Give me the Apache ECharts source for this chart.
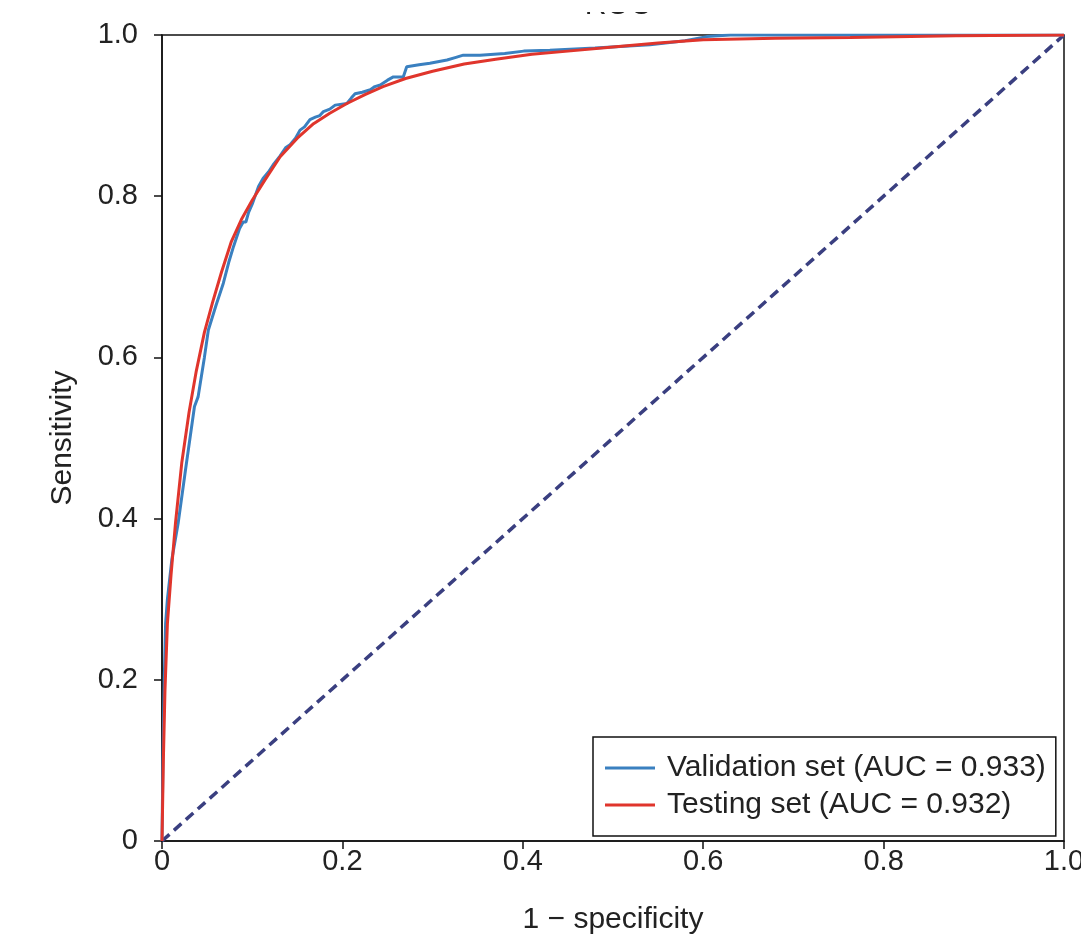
<!DOCTYPE html>
<html>
<head>
<meta charset="utf-8">
<script src="https://cdn.jsdelivr.net/npm/echarts@6/dist/echarts.min.js"></script>
<style>
  html, body { margin: 0; padding: 0; background: #fff; }
  #rocChart { width: 1081px; height: 940px; }
</style>
</head>
<body>
<div id="rocChart"></div>
<script>
// validation set ROC points (1 - specificity, sensitivity)
const validFpr = [0, 0.001, 0.0025, 0.004, 0.006, 0.011, 0.018, 0.026, 0.036, 0.040, 0.047, 0.0514, 0.06, 0.068,
    0.074, 0.0794, 0.086, 0.09, 0.093, 0.096, 0.1, 0.107, 0.112, 0.118, 0.124, 0.131, 0.137, 0.142, 0.148, 0.153,
    0.158, 0.164, 0.17, 0.175, 0.179, 0.186, 0.192, 0.205, 0.21, 0.214, 0.222, 0.231, 0.236, 0.242, 0.25, 0.2565,
    0.2675, 0.2713, 0.285, 0.297, 0.316, 0.325, 0.334, 0.3525, 0.38, 0.401, 0.43, 0.48, 0.541, 0.58, 0.604, 0.63, 1.0];
const validTpr = [0, 0.1, 0.2, 0.27, 0.3, 0.35, 0.395, 0.46, 0.539, 0.551, 0.6, 0.634, 0.665, 0.692,
    0.718, 0.738, 0.76, 0.768, 0.768, 0.78, 0.79, 0.812, 0.822, 0.83, 0.84, 0.85, 0.86, 0.864, 0.872, 0.882,
    0.886, 0.895, 0.898, 0.9, 0.905, 0.908, 0.913, 0.915, 0.922, 0.927, 0.929, 0.932, 0.936, 0.938, 0.944, 0.948,
    0.948, 0.9605, 0.963, 0.965, 0.969, 0.972, 0.975, 0.975, 0.977, 0.98, 0.981, 0.984, 0.988, 0.993, 0.998, 1.0, 1.0];

// testing set ROC points
const testFpr = [0, 0.0015, 0.0033, 0.006, 0.01, 0.015, 0.022, 0.03, 0.038, 0.047, 0.056, 0.066, 0.077, 0.088,
    0.1, 0.114, 0.131, 0.15, 0.168, 0.186, 0.205, 0.225, 0.245, 0.27, 0.3, 0.335, 0.37, 0.41, 0.45, 0.5, 0.55,
    0.6, 0.68, 0.763, 0.88, 1.0];
const testTpr = [0, 0.1, 0.187, 0.27, 0.33, 0.395, 0.47, 0.532, 0.583, 0.631, 0.668, 0.706, 0.744, 0.771,
    0.795, 0.82, 0.849, 0.872, 0.89, 0.903, 0.915, 0.926, 0.936, 0.946, 0.955, 0.964, 0.97, 0.976, 0.98, 0.985, 0.99,
    0.994, 0.996, 0.997, 0.999, 1.0];

const chanceLine = [[0, 0], [1, 1]];
const seriesNames = ["Validation set (AUC = 0.933)", "Testing set (AUC = 0.932)"];

const font = "Liberation Sans, Arial, sans-serif";
const tickFmt = v => (v === 0 ? "0" : v.toFixed(1));

const zip = (xs, ys) => xs.map((x, i) => [x, ys[i]]);

const myChart = echarts.init(document.getElementById("rocChart"));
myChart.setOption({
    animation: false,
    backgroundColor: "#fff",
    // title is cut off in the original figure, only its lower edge shows
    title: {
        text: "ROC",
        left: 613,
        textAlign: "center",
        top: -14,
        textStyle: { fontFamily: font, fontSize: 30, fontWeight: "normal", color: "#222" }
    },
    graphic: [
        {
            type: "rect",
            left: 0,
            top: 0,
            z: 100,
            shape: { width: 1081, height: 12 },
            style: { fill: "#fff" }
        }
    ],
    grid: {
        left: 162,
        right: 17,
        top: 35,
        bottom: 99,
        outerBoundsMode: "none",
        containLabel: false,
        show: true,
        borderColor: "#111",
        borderWidth: 1.5
    },
    legend: {
        orient: "vertical",
        left: 593,
        top: 737,
        padding: [16, 10, 16, 12],
        itemGap: 7,
        itemWidth: 50,
        itemHeight: 3,
        icon: "rect",
        borderColor: "#111",
        borderWidth: 1.5,
        backgroundColor: "#fff",
        data: seriesNames,
        textStyle: { fontFamily: font, fontSize: 30, color: "#222", padding: [0, 0, 0, 7] }
    },
    xAxis: {
        type: "value",
        min: 0,
        max: 1,
        interval: 0.2,
        name: "1 \u2212 specificity",
        nameLocation: "middle",
        nameGap: 64,
        nameTextStyle: { fontFamily: font, fontSize: 30, color: "#222" },
        axisLine: { show: true, lineStyle: { color: "#111", width: 1.5 } },
        axisTick: { show: true, length: 8, lineStyle: { color: "#111", width: 1.5 } },
        axisLabel: { fontFamily: font, fontSize: 29, color: "#222", margin: 6, formatter: tickFmt },
        splitLine: { show: false }
    },
    yAxis: {
        type: "value",
        min: 0,
        max: 1,
        interval: 0.2,
        name: "Sensitivity",
        nameLocation: "middle",
        nameRotate: 90,
        nameGap: 84,
        nameTextStyle: { fontFamily: font, fontSize: 30, color: "#222" },
        axisLine: { show: true, lineStyle: { color: "#111", width: 1.5 } },
        axisTick: { show: true, length: 8, lineStyle: { color: "#111", width: 1.5 } },
        axisLabel: { fontFamily: font, fontSize: 29, color: "#222", margin: 24, formatter: tickFmt },
        splitLine: { show: false }
    },
    series: [
        {
            name: "chance",
            type: "line",
            data: chanceLine,
            showSymbol: false,
            silent: true,
            lineStyle: { color: "#3a3f80", width: 3.5, type: [10, 6] }
        },
        {
            name: seriesNames[0],
            type: "line",
            data: zip(validFpr, validTpr),
            showSymbol: false,
            itemStyle: { color: "#3a80c0" },
            lineStyle: { color: "#3a80c0", width: 3 }
        },
        {
            name: seriesNames[1],
            type: "line",
            data: zip(testFpr, testTpr),
            showSymbol: false,
            itemStyle: { color: "#e0352c" },
            lineStyle: { color: "#e0352c", width: 3 }
        }
    ]
});
</script>
</body>
</html>
